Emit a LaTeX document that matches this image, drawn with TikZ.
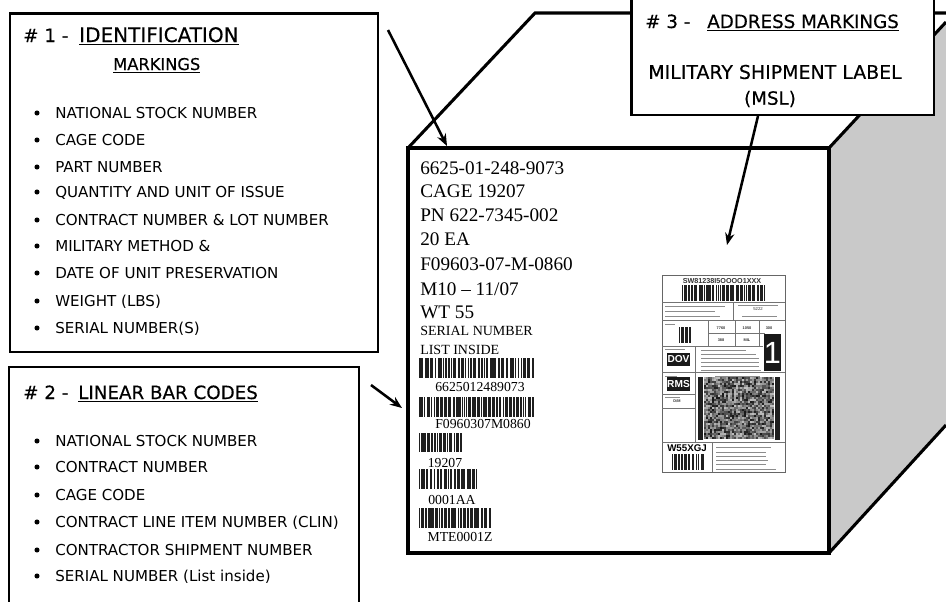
\documentclass[tikz,border=0pt]{standalone}
\usepackage{fontspec}
\setmainfont{Liberation Serif}
\newfontfamily\markfont{DejaVu Sans}
\newfontfamily\boldmarkfont[FakeBold=0.35]{DejaVu Sans}
\newfontfamily\labelfont{Liberation Sans}
\usetikzlibrary{arrows.meta, positioning}

% One strip of bars: start x, top y, width, height, seed
\newcommand{\barstrip}[5]{%
    \pgfmathsetseed{#5}
    \xdef\barx{#1}
    \foreach \i in {1,...,70}{
        \pgfmathparse{#1+#3-\barx > 0.5 ? 1 : 0}
        \pgfmathtruncatemacro{\barmore}{\pgfmathresult}
        \ifnum\barmore=1
            \pgfmathsetmacro{\barw}{min(0.7+1.1*random(0,2),#1+#3-\barx)}
            \fill [barfill] (\barx,#2) rectangle ++(\barw,#4);
            \pgfmathsetmacro{\nextx}{\barx+\barw+0.6+0.5*random(0,2)}
            \xdef\barx{\nextx}
        \fi
    }%
}

\begin{document}
\begin{tikzpicture}[
    x=0.75pt, y=-0.75pt,
    % GLOBAL CFG
    >=LaTeX,
    % Styles
    callout/.style={% For the three callouts
        rectangle,
        draw,
        fill=white,
        line width=2pt,
        inner sep=0pt,
        },
    headline/.style={% For the callout headings
        anchor=base west,
        inner sep=0pt,
        font=\boldmarkfont\fontsize{13.7}{15}\selectfont,
        },
    itemline/.style={% For the bullet lines
        anchor=base west,
        inner sep=0pt,
        font=\markfont\fontsize{11.3}{13}\selectfont,
        },
    bullet/.style={% For the bullets
        circle,
        fill,
        minimum size=3.8pt,
        inner sep=0pt,
        },
    printline/.style={% For the printed lines on the crate
        anchor=base west,
        inner sep=0pt,
        font=\fontsize{14.4}{16}\selectfont,
        },
    smallline/.style={% For the printed lines that are smaller
        anchor=base west,
        inner sep=0pt,
        font=\fontsize{10.5}{12}\selectfont,
        },
    numline/.style={% For the numbers under the bars
        inner sep=0pt,
        font=\fontsize{10.3}{12}\selectfont,
        },
    barfill/.style={fill=black!88},
    crate/.style={line width=2.3pt, line join=miter},
    pointer/.style={line width=1.9pt, -{Stealth[length=9pt,width=7pt]}},
    labelrule/.style={line width=0.4pt, draw=black!55},
    tinytext/.style={font=\labelfont\bfseries\fontsize{2.9}{3}\selectfont, inner sep=0pt, text=black!80},
    invert/.style={fill=black!90, text=white, inner sep=0pt, font=\labelfont\bfseries\fontsize{7.6}{8}\selectfont},
    ]

\useasboundingbox (0,0) rectangle (946,601);

% Draw the crate
    \fill [black!21] (829,148) -- (946,22) -- (946,425) -- (829,553) -- cycle;
    \draw [crate] (408,148) -- (535,13) -- (946,13);
    \draw [crate] (829,148) -- (946,22);
    \draw [crate] (829,553) -- (946,425);
    \node [rectangle, draw, fill=white, line width=3.2pt, minimum width=315.75pt, minimum height=303.75pt] (face) at (618.5,350.5) {};

% Draw the callouts
    \node [callout, minimum width=276pt, minimum height=254pt] (box1) at (194,182.5) {};
    \node [callout, minimum width=262.5pt, minimum height=190pt] (box2) at (184,493.7) {};
    \node [callout, minimum width=227pt, minimum height=90pt] (box3) at (782.5,55) {};

% Headings, named as basis title#, their numbers as num#
    \node [headline] (num1) at (23,42) {\# 1 -};
    \node [headline, font=\boldmarkfont\fontsize{15}{16}\selectfont] (title1) at (79,42) {\underline{IDENTIFICATION}};
    \node [headline, font=\boldmarkfont\fontsize{12.2}{14}\selectfont] (title1b) at (113,70) {\underline{MARKINGS}};
    \node [headline] (num2) at (23,399) {\# 2 -};
    \node [headline] (title2) at (78,399) {\underline{LINEAR BAR CODES}};
    \node [headline] (num3) at (645,28) {\#\ 3 -};
    \node [headline] (title3) at (707,28) {\underline{ADDRESS MARKINGS}};
    \node [inner sep=0pt, font=\boldmarkfont\fontsize{14.2}{15}\selectfont] (msl1) at (775,72) {MILITARY SHIPMENT LABEL};
    \node [inner sep=0pt, font=\boldmarkfont\fontsize{13.7}{15}\selectfont] (msl2) at (770,99) {(MSL)};

% Bullet lines of the first callout
    \foreach \y/\t [count=\n] in {118/NATIONAL STOCK NUMBER, 145/CAGE CODE, 172/PART NUMBER, 197/QUANTITY AND UNIT OF ISSUE, 225/CONTRACT NUMBER \& LOT NUMBER, 251/MILITARY METHOD \&, 278/DATE OF UNIT PRESERVATION, 306/WEIGHT (LBS), 333/SERIAL NUMBER(S)}{
        \node [bullet] (dota\n) at (37,\y-5) {};
        \node [itemline] (itema\n) at (55,\y) {\t};
    }

% Bullet lines of the second callout
    \foreach \y/\t [count=\n] in {446/NATIONAL STOCK NUMBER, 472/CONTRACT NUMBER, 500/CAGE CODE, 527/CONTRACT LINE ITEM NUMBER (CLIN), 555/CONTRACTOR SHIPMENT NUMBER, 581/SERIAL NUMBER (List inside)}{
        \node [bullet] (dotb\n) at (37,\y-5) {};
        \node [itemline] (itemb\n) at (55,\y) {\t};
    }

% Lines printed on the crate
    \foreach \y/\t [count=\n] in {174/6625-01-248-9073, 197/CAGE 19207, 221/PN 622-7345-002, 245/20 EA, 270/F09603-07-M-0860, 295/{M10 -- 11/07}, 318/WT 55}{
        \node [printline] (mark\n) at (420,\y) {\t};
    }
    \node [smallline] (mark8) at (420,335) {SERIAL NUMBER};
    \node [smallline] (mark9) at (420,354) {LIST INSIDE};

% Bar codes and their numbers
    \barstrip{419}{358}{115}{20}{11}
    \node [numline] (code1) at (480,387) {6625012489073};
    \barstrip{419}{397}{115}{20}{23}
    \node [numline] (code2) at (483,424) {F0960307M0860};
    \barstrip{419}{433}{43}{19}{37}
    \node [numline] (code3) at (445,463) {19207};
    \barstrip{419}{469}{58}{20}{41}
    \node [numline] (code4) at (452,500) {0001AA};
    \barstrip{419}{508}{72}{20}{53}
    \node [numline] (code5) at (460,537) {MTE0001Z};

% The shipment label
    \node [rectangle, draw=black!60, line width=0.5pt, minimum width=92.25pt, minimum height=147.75pt, inner sep=0pt] (msl) at (723.5,373.5) {};
    \draw [labelrule] (662,302) -- (785,302);
    \draw [labelrule] (662,320) -- (785,320);
    \draw [labelrule] (733,302) -- (733,320);
    \draw [labelrule] (662,346) -- (763,346);
    \draw [labelrule] (708,320) -- (708,346);
    \draw [labelrule] (735,320) -- (735,346);
    \draw [labelrule] (759,320) -- (759,346);
    \draw [labelrule] (708,333) -- (765,333);
    \draw [labelrule] (662,372) -- (785,372);
    \draw [labelrule] (695,346) -- (695,442);
    \draw [labelrule] (662,394) -- (695,394);
    \draw [labelrule] (662,408) -- (695,408);
    \draw [labelrule] (662,442) -- (785,442);
    \draw [labelrule] (712,442) -- (712,472);

    \node [tinytext, font=\labelfont\bfseries\fontsize{5.4}{6}\selectfont] (tcn) at (722,281) {SW81238I5OOOO1XXX};
    \barstrip{682}{285}{83}{16}{61}
    \barstrip{679}{327}{13}{16}{67}
    \node [tinytext, font=\labelfont\fontsize{3.2}{3}\selectfont] (w5222) at (758,309) {5222};
    \node [tinytext] (w7760) at (721,328) {7760};
    \node [tinytext] (w1050) at (747,328) {1050};
    \node [tinytext] (w300) at (769,328) {300};
    \node [tinytext] (w388) at (721,340) {388};
    \node [tinytext] (wmil) at (747,340) {MIL};
    \node [invert, minimum width=17.25pt, minimum height=9.75pt] (dov) at (678.5,359.5) {DOV};
    \node [invert, minimum width=17.25pt, minimum height=10.5pt] (rms) at (678.5,384) {RMS};
    \node [invert, font=\labelfont\fontsize{23}{24}\selectfont, minimum width=12.75pt, minimum height=27.75pt] (one) at (772.5,352.5) {1};
    \node [tinytext] (dm) at (677,401) {D/M};
    \node [inner sep=0pt, font=\labelfont\bfseries\fontsize{7.3}{8}\selectfont] (wcode) at (687,448) {W55XGJ};
    \barstrip{672}{454}{33}{16}{71}
    \foreach \x/\y/\w in {665/306/60, 665/311/50, 665/316/55, 738/305/40, 742/316/35, 665/324/10, 665/349/20, 701/350/45, 701/354/55, 701/358/58, 701/362/58, 701/366/58, 701/370/60, 665/376/12, 715/376/45, 665/397/15, 716/447/55, 716/452/50, 716/456/50, 716/460/52, 716/464/50, 716/469/60}{
        \draw [labelrule, draw=black!45] (\x,\y) -- ++(\w,0);
    }

% The block of squares and its side bars
    \fill [barfill] (698,377) rectangle (703,440);
    \fill [barfill] (775,377) rectangle (780,440);
    \pgfmathsetseed{7}
    \foreach \i in {0,...,34}{
        \foreach \j in {0,...,30}{
            \pgfmathrandominteger{\shade}{25}{90}
            \fill [black!\shade] (704+2*\i,377+2*\j) rectangle ++(2,2);
        }
    }

% Start connecting all.
    \coordinate (from1) at (388,30);
    \coordinate (to1) at (447,146);
    \coordinate (from2) at (371,385);
    \coordinate (to2) at (402,408);
    \coordinate (from3) at (758,116);
    \coordinate (to3) at (727,245);
    \draw [pointer] (from1) -- (to1);
    \draw [pointer] (from2) -- (to2);
    \draw [pointer] (from3) -- (to3);

\end{tikzpicture}
\end{document}
